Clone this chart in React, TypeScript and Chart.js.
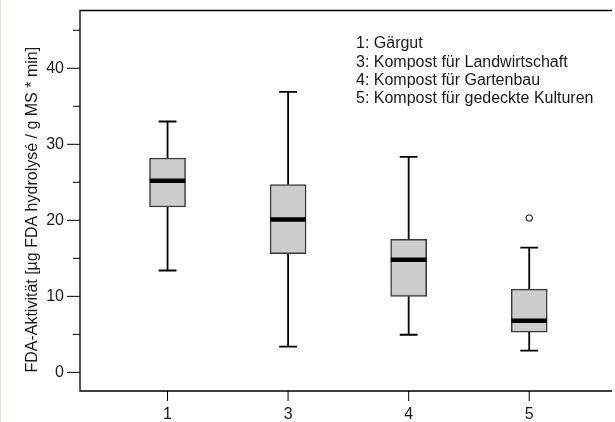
import React, { useEffect, useRef } from 'react';
import { Chart, registerables } from 'chart.js';

Chart.register(...registerables);

// ---- data ----
const categories = ['1', '3', '4', '5'];
const whiskerLow = [13.4, 3.4, 4.95, 2.85];
const q1 = [21.75, 15.6, 10.0, 5.3];
const median = [25.2, 20.1, 14.8, 6.8];
const q3 = [28.2, 24.7, 17.5, 10.95];
const whiskerHigh = [33.0, 36.9, 28.35, 16.4];
const outlierCategory = ['5'];
const outlierValue = [20.3];

const yMajorTicks = [0, 10, 20, 30, 40];
const yMinorTicks = [5, 15, 25, 35, 45];
const yTitle = 'FDA-Aktivität [µg FDA hydrolysé / g MS * min]';
const legendLines = [
  '1: Gärgut',
  '3: Kompost für Landwirtschaft',
  '4: Kompost für Gartenbau',
  '5: Kompost für gedeckte Kulturen',
];

// ---- layout / style constants ----
const W = 615;
const H = 422;
const FONT = "'Liberation Sans', Arial, Helvetica, sans-serif";
const FONT_SIZE = 16;
const TEXT = '#1a1a1a';
const BOX_HALF = 0.148; // box half-width in x units
const CAP_HALF = 0.074; // whisker cap half-width in x units
const X_MIN = 0.274;
const X_MAX = 4.67;
const Y_MIN = -2.45;
const Y_MAX = 47.6;

const positions = categories.map((_, i) => i + 1);

const framePlugin = {
  id: 'frameAndTicks',
  beforeDraw(chart: any) {
    const { ctx } = chart;
    ctx.save();
    ctx.fillStyle = '#ffffff';
    ctx.fillRect(0, 0, chart.width, chart.height);
    ctx.fillStyle = '#eadfdb';
    ctx.fillRect(0, 0, 1, chart.height);
    ctx.restore();
  },
  afterDraw(chart: any) {
    const { ctx, chartArea: a, scales } = chart;
    const x = scales.x;
    const y = scales.y;
    ctx.save();
    ctx.strokeStyle = '#000';
    ctx.lineWidth = 1.3;
    ctx.beginPath();
    ctx.moveTo(a.right + 2, a.top);
    ctx.lineTo(a.left, a.top);
    ctx.lineTo(a.left, a.bottom);
    ctx.lineTo(a.right + 2, a.bottom);
    ctx.stroke();

    ctx.lineWidth = 1;
    ctx.beginPath();
    yMajorTicks.forEach((v) => {
      const py = y.getPixelForValue(v);
      ctx.moveTo(a.left - 13, py);
      ctx.lineTo(a.left, py);
    });
    yMinorTicks.forEach((v) => {
      const py = y.getPixelForValue(v);
      ctx.moveTo(a.left - 7, py);
      ctx.lineTo(a.left, py);
    });
    positions.forEach((v) => {
      const px = x.getPixelForValue(v);
      ctx.moveTo(px, a.bottom);
      ctx.lineTo(px, a.bottom + 10);
    });
    ctx.stroke();

    ctx.fillStyle = TEXT;
    ctx.font = `${FONT_SIZE}px ${FONT}`;
    ctx.textAlign = 'left';
    ctx.textBaseline = 'middle';
    legendLines.forEach((t, i) => {
      ctx.fillText(t, 356, 44 + i * 18.3);
    });

    // y axis title
    ctx.save();
    ctx.translate(33, (a.top + a.bottom) / 2 + 9);
    ctx.rotate(-Math.PI / 2);
    ctx.textAlign = 'center';
    ctx.textBaseline = 'middle';
    ctx.fillText(yTitle, 0, 0);
    ctx.restore();

    ctx.restore();
  },
};

export default function App() {
  const ref = useRef<HTMLCanvasElement | null>(null);

  useEffect(() => {
    if (!ref.current) return;

    const boxData = positions.map((p, i) => ({ x: p, y: [q1[i], q3[i]] }));
    const whiskerData: any[] = [];
    const medianData: any[] = [];
    positions.forEach((p, i) => {
      whiskerData.push({ x: p, y: q3[i] }, { x: p, y: whiskerHigh[i] }, { x: p, y: null });
      whiskerData.push({ x: p, y: q1[i] }, { x: p, y: whiskerLow[i] }, { x: p, y: null });
      whiskerData.push({ x: p - CAP_HALF, y: whiskerHigh[i] }, { x: p + CAP_HALF, y: whiskerHigh[i] }, { x: p, y: null });
      whiskerData.push({ x: p - CAP_HALF, y: whiskerLow[i] }, { x: p + CAP_HALF, y: whiskerLow[i] }, { x: p, y: null });
      medianData.push({ x: p - BOX_HALF, y: median[i] }, { x: p + BOX_HALF, y: median[i] }, { x: p, y: null });
    });
    const outlierData = outlierCategory.map((c, i) => ({
      x: positions[categories.indexOf(c)],
      y: outlierValue[i],
    }));

    const chart = new Chart(ref.current, {
      type: 'bar',
      data: {
        datasets: [
          {
            type: 'line',
            data: medianData,
            borderColor: '#000',
            borderWidth: 4.5,
            borderCapStyle: 'butt',
            pointRadius: 0,
            spanGaps: false,
            order: 0,
          } as any,
          {
            type: 'line',
            data: whiskerData,
            borderColor: '#000',
            borderWidth: 1.8,
            borderCapStyle: 'butt',
            pointRadius: 0,
            spanGaps: false,
            order: 2,
          } as any,
          {
            type: 'scatter',
            data: outlierData,
            pointStyle: 'circle',
            pointRadius: 3.2,
            borderColor: '#000',
            borderWidth: 1,
            backgroundColor: '#fff',
            order: 0,
          } as any,
          {
            type: 'bar',
            data: boxData,
            backgroundColor: '#cccccc',
            borderColor: '#3a3a3a',
            borderWidth: 1.5,
            borderSkipped: false,
            barThickness: 36,
            order: 1,
          } as any,
        ],
      },
      options: {
        responsive: false,
        animation: false,
        events: [],
        layout: { padding: { left: 0, top: 10.5, right: 0, bottom: 0 } },
        plugins: {
          legend: { display: false },
          tooltip: { enabled: false },
        },
        scales: {
          x: {
            type: 'linear',
            offset: false,
            min: X_MIN,
            max: X_MAX,
            grid: { display: false, drawTicks: false },
            border: { display: false },
            ticks: {
              color: TEXT,
              font: { family: FONT, size: FONT_SIZE },
              padding: 14,
              maxRotation: 0,
              callback: (_v: any, i: number) => categories[i],
            },
            afterBuildTicks: (s: any) => {
              s.ticks = positions.map((v) => ({ value: v }));
            },
            afterFit: (s: any) => {
              s.height = 31;
              s.paddingLeft = 0;
              s.paddingRight = 0;
            },
          },
          y: {
            type: 'linear',
            min: Y_MIN,
            max: Y_MAX,
            grid: { display: false, drawTicks: false },
            border: { display: false },
            ticks: {
              color: TEXT,
              font: { family: FONT, size: FONT_SIZE },
              padding: 16,
            },
            afterBuildTicks: (s: any) => {
              s.ticks = yMajorTicks.map((v) => ({ value: v }));
            },
            afterFit: (s: any) => {
              s.width = 80;
              s.paddingTop = 0;
              s.paddingBottom = 0;
            },
          },
        },
      },
      plugins: [framePlugin],
    } as any);

    return () => chart.destroy();
  }, []);

  return (
    <div style={{ position: 'fixed', left: 0, top: 0, width: W, height: H, background: '#fff' }}>
      <canvas ref={ref} width={W} height={H} style={{ display: 'block', width: W, height: H }} />
    </div>
  );
}
